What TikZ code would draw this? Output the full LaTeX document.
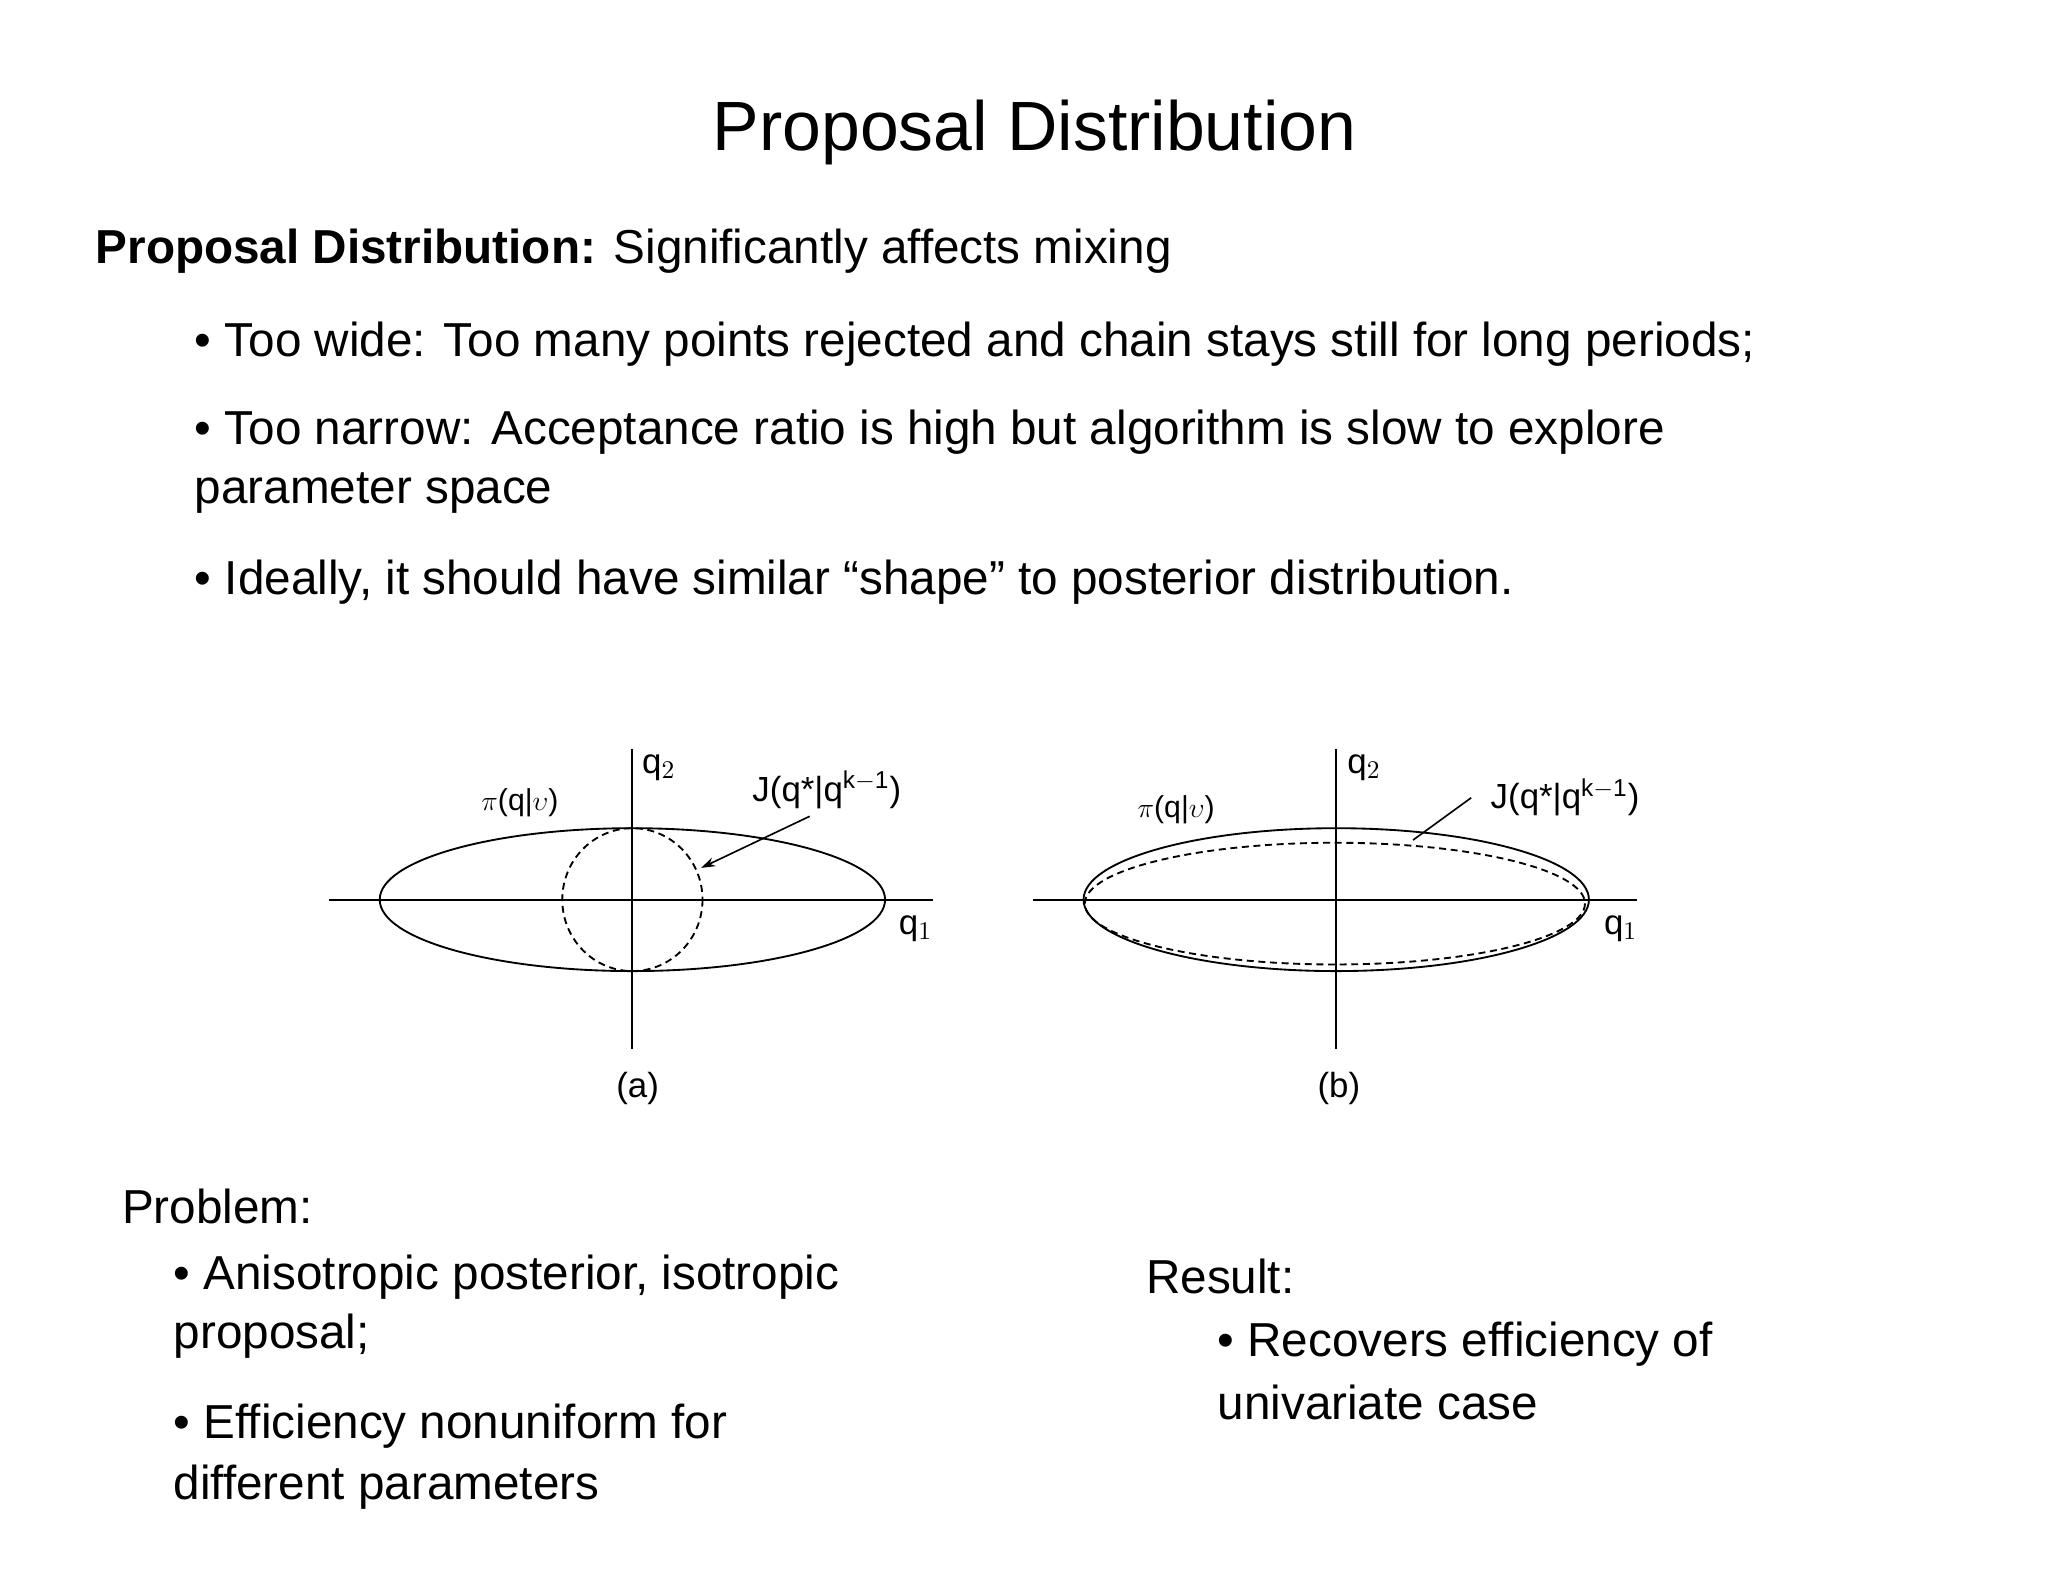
\documentclass[tikz,border=0pt]{standalone}
\usepackage{fontspec}
\setmainfont{Liberation Sans}
\usetikzlibrary{arrows.meta}
\begin{document}
\begin{tikzpicture}[x=0.02cm,y=-0.02cm,
  body/.style={anchor=west,inner sep=0,font=\fontsize{20.5}{24}\selectfont},
  lab/.style={inner sep=0,font=\fontsize{13}{15}\selectfont},
  axis/.style={line width=0.8pt},
  curve/.style={line width=0.8pt},
  dcurve/.style={line width=0.8pt,dash pattern=on 3pt off 2pt},
  arr/.style={line width=0.7pt,-{Stealth[length=6pt,width=4pt]}}]
\useasboundingbox (0,0) rectangle (1548,1196);
\node[inner sep=0,font=\fontsize{30}{34}\selectfont] (title) at (782,100) {Proposal Distribution};
\node[body] (t0) at (72,190) {\textbf{Proposal Distribution:} Significantly affects mixing};
\node[body] (t1) at (147,260) {• Too wide: Too many points rejected and chain stays still for long periods;};
\node[body] (t2) at (147,327) {• Too narrow: Acceptance ratio is high but algorithm is slow to explore};
\node[body] (t3) at (147,373) {parameter space};
\node[body] (t4) at (147,440) {• Ideally, it should have similar “shape” to posterior distribution.};
% diagram a
\coordinate (ca) at (478,680);
\draw[axis] (249,680) -- (705,680);
\draw[axis] (478,566) -- (478,793);
\draw[curve] (ca) ellipse [x radius=191, y radius=54];
\draw[dcurve] (ca) ellipse [x radius=53, y radius=54];
\node[lab] (pia) at (393,607) {$\pi$(q|$\upsilon$)};
\node[lab,font=\fontsize{15}{17}\selectfont] (q2a) at (498,580) {q$_2$};
\node[lab,font=\fontsize{15}{17}\selectfont] (Ja) at (625,597) {J(q*|q$^{\mathrm{k-1}}$)};
\coordinate (Jat) at (612,617);
\coordinate (Jah) at (530,656);
\draw[arr] (Jat) -- (Jah);
\node[lab,font=\fontsize{15}{17}\selectfont] (q1a) at (692,702) {q$_1$};
\node[lab,font=\fontsize{15}{17}\selectfont] (a) at (482,823) {(a)};
% diagram b
\coordinate (cb) at (1010,680);
\draw[axis] (781,680) -- (1237,680);
\draw[axis] (1010,566) -- (1010,793);
\draw[curve] (cb) ellipse [x radius=191, y radius=54];
\draw[dcurve] (1009,683) ellipse [x radius=189, y radius=46];
\node[lab] (pib) at (889,612) {$\pi$(q|$\upsilon$)};
\node[lab,font=\fontsize{15}{17}\selectfont] (q2b) at (1031,580) {q$_2$};
\node[lab,font=\fontsize{15}{17}\selectfont] (Jb) at (1183,603) {J(q*|q$^{\mathrm{k-1}}$)};
\coordinate (Jbt) at (1112,603);
\coordinate (Jbh) at (1068,635);
\draw[line width=0.7pt] (Jbt) -- (Jbh);
\node[lab,font=\fontsize{15}{17}\selectfont] (q1b) at (1225,702) {q$_1$};
\node[lab,font=\fontsize{15}{17}\selectfont] (b) at (1012,823) {(b)};
% bottom
\node[body] (p0) at (92,912) {Problem:};
\node[body] (p1) at (131,965) {• Anisotropic posterior, isotropic};
\node[body] (p2) at (131,1010) {proposal;};
\node[body] (p3) at (131,1078) {• Efficiency nonuniform for};
\node[body] (p4) at (131,1124) {different parameters};
\node[body] (r0) at (866,965) {Result:};
\node[body] (r1) at (920,1016) {• Recovers efficiency of};
\node[body] (r2) at (920,1060) {univariate case};
\end{tikzpicture}
\end{document}
